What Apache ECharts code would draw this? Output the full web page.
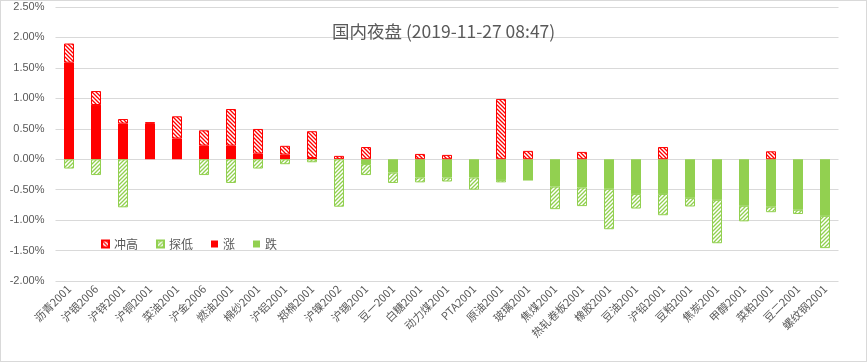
<!DOCTYPE html>
<html>
<head>
<meta charset="utf-8">
<script src="https://cdn.jsdelivr.net/npm/echarts@6/dist/echarts.min.js"></script>
<style>
html,body{margin:0;padding:0;background:#fff;}
#wrap{width:867px;height:362px;box-sizing:border-box;border:1px solid #d9d9d9;position:relative;}
#chart{position:absolute;left:-1px;top:-1px;width:867px;height:362px;}
</style>
</head>
<body>
<div id="wrap"><div id="chart"></div></div>
<script>
const categories = ['沥青2001','沪银2006','沪锌2001','沪铜2001','菜油2001','沪金2006','燃油2001','棉纱2001','沪铝2001','郑棉2001','沪镍2002','沪锡2001','豆一2001','白糖2001','动力煤2001','PTA2001','原油2001','玻璃2001','焦煤2001','热轧卷板2001','橡胶2001','豆油2001','沪铅2001','豆粕2001','焦炭2001','甲醇2001','菜粕2001','豆二2001','螺纹钢2001'];
// percent values
const closeVals = [1.585, 0.89, 0.585, 0.58, 0.34, 0.224, 0.224, 0.093, 0.077, 0.02, 0, -0.08, -0.22, -0.30, -0.30, -0.30, -0.34, -0.35, -0.45, -0.465, -0.486, -0.57, -0.57, -0.634, -0.667, -0.765, -0.78, -0.83, -0.93];
const highVals = [1.90, 1.12, 0.66, 0.61, 0.705, 0.475, 0.825, 0.497, 0.22, 0.46, 0.055, 0.20, 0, 0.087, 0.071, 0, 0.99, 0.137, 0, 0.12, 0, 0, 0.20, 0, 0, 0, 0.13, 0, 0];
const lowVals = [-0.153, -0.26, -0.79, 0, 0, -0.26, -0.39, -0.153, -0.082, -0.05, -0.78, -0.26, -0.39, -0.38, -0.366, -0.50, -0.38, -0.35, -0.82, -0.77, -1.15, -0.81, -0.92, -0.776, -1.38, -1.02, -0.87, -0.90, -1.46];
const yTicks = {min: -2.0, max: 2.5, interval: 0.5};
const titleText = '国内夜盘 (2019-11-27 08:47)';

const RED = '#FF0000', GREEN = '#92D050', TXT = '#595959';

function hatch(color, dir) {
  const s = 4;
  const c = document.createElement('canvas');
  c.width = s; c.height = s;
  const g = c.getContext('2d');
  g.fillStyle = '#fff'; g.fillRect(0, 0, s, s);
  g.strokeStyle = color; g.lineWidth = 1.3;
  g.beginPath();
  if (dir === 'down') {
    g.moveTo(-1, -1); g.lineTo(s + 1, s + 1);
    g.moveTo(s - 1, -1); g.lineTo(s + 1, 1);
    g.moveTo(-1, s - 1); g.lineTo(1, s + 1);
  } else {
    g.moveTo(-1, s + 1); g.lineTo(s + 1, -1);
    g.moveTo(-1, 1); g.lineTo(1, -1);
    g.moveTo(s - 1, s + 1); g.lineTo(s + 1, s - 1);
  }
  g.stroke();
  return {image: c, repeat: 'repeat'};
}

const nz = v => (Math.abs(v) < 1e-9 ? '-' : +v.toFixed(4));
const upData = closeVals.map(v => nz(Math.max(v, 0)));
const downData = closeVals.map(v => nz(Math.min(v, 0)));
const chongData = highVals.map((h, i) => nz(Math.max(h - Math.max(closeVals[i], 0), 0)));
const tanData = lowVals.map((l, i) => nz(Math.min(l - Math.min(closeVals[i], 0), 0)));

const chart = echarts.init(document.getElementById('chart'), null, {renderer: 'canvas'});
const font = '"Noto Sans CJK SC", "Noto Sans", sans-serif';
chart.setOption({
  animation: false,
  title: {
    text: titleText, left: 327, top: 18,
    textStyle: {color: TXT, fontSize: 17.5, fontWeight: 'normal', fontFamily: font}
  },
  legend: {
    data: ['冲高', '探低', '涨', '跌'],
    left: 96, top: 233, itemWidth: 7, itemHeight: 7, itemGap: 18,
    icon: 'rect',
    textStyle: {color: TXT, fontSize: 12, fontFamily: font}
  },
  grid: {left: 55.5, right: 28.5, top: 7, bottom: 81, containLabel: false},
  xAxis: {
    type: 'category', data: categories,
    axisLine: {show: false}, axisTick: {show: false},
    axisLabel: {rotate: 45, interval: 0, color: TXT, fontSize: 11, fontFamily: font, margin: 6}
  },
  yAxis: {
    type: 'value', min: yTicks.min, max: yTicks.max, interval: yTicks.interval,
    axisLine: {show: false}, axisTick: {show: false},
    splitLine: {lineStyle: {color: '#d9d9d9'}},
    axisLabel: {color: TXT, fontSize: 11, fontFamily: '"Liberation Sans", sans-serif', margin: 11,
      formatter: v => v.toFixed(2) + '%'}
  },
  series: [
    {name: '涨', type: 'bar', stack: 's', barWidth: 10, data: upData, itemStyle: {color: RED}},
    {name: '跌', type: 'bar', stack: 's', barWidth: 10, data: downData, itemStyle: {color: GREEN}},
    {name: '冲高', type: 'bar', stack: 's', barWidth: 10, data: chongData,
      itemStyle: {color: hatch(RED, 'down'), borderColor: RED, borderWidth: 1}},
    {name: '探低', type: 'bar', stack: 's', barWidth: 10, data: tanData,
      itemStyle: {color: hatch(GREEN, 'up'), borderColor: GREEN, borderWidth: 1}}
  ]
});
</script>
</body>
</html>
